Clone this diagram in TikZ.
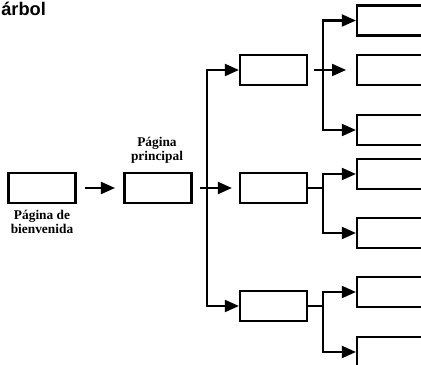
\documentclass[tikz,border=0pt]{standalone}
\usepackage{fontspec}
\setmainfont{Liberation Serif}
\newfontfamily\titlefont{Liberation Sans}
\usetikzlibrary{arrows.meta}

\begin{document}
\begin{tikzpicture}[
                x=0.025cm, y=-0.025cm,
                box/.style={
                    draw=black,
                    rectangle,
                    line width=1.5pt,
                    minimum width=1.675cm,
                    minimum height=0.75cm,
                    inner sep=0pt
                },
                leafbox/.style={
                    box,
                    minimum width=2cm
                },
                pagetext/.style={
                    align=center,
                    inner sep=0pt,
                    font=\bfseries\fontsize{9.5}{10}\selectfont
                },
                line/.style={
                    line width=1.5pt
                },
                arrow/.style={
                    line,
                    -{Triangle[length=10pt,width=8.5pt]}
                }
            ]

                \useasboundingbox (0,0) rectangle (421,365);
                \clip (0,0) rectangle (421,365);

                \node[anchor=base west, inner sep=0pt, font=\titlefont\bfseries\fontsize{13}{15}\selectfont] (title) at (1,16) {árbol};

                % main pages
                \node[box] (welcome) at (42,188) {};
                \node[box] (main) at (158,188) {};
                \node[pagetext] (welcometext) at (42,222) {Página de\\bienvenida};
                \node[pagetext] (maintext) at (157,150) {Página\\principal};

                % second level
                \node[box] (lvA) at (273.5,70) {};
                \node[box] (lvB) at (273.5,188) {};
                \node[box] (lvC) at (273.5,306) {};

                % leaves
                \node[leafbox] (r1) at (397,20.5) {};
                \node[leafbox] (r2) at (397,70) {};
                \node[leafbox] (r3) at (397,130) {};
                \node[leafbox] (r4) at (397,174) {};
                \node[leafbox] (r5) at (397,233) {};
                \node[leafbox] (r6) at (397,292) {};
                \node[leafbox] (r7) at (397,352) {};

                \coordinate (t1) at (207,188);
                \coordinate (t2) at (323,70);
                \coordinate (t3) at (323,188);
                \coordinate (t4) at (323,306);

                \draw[arrow, shorten <=6pt, shorten >=6pt] (welcome) -- (main);

                \draw[arrow, shorten <=5pt, shorten >=5pt] (main) -- (lvB);
                \draw[arrow] (t1) |- (lvA);
                \draw[arrow] (t1) |- (lvC);

                \draw[arrow, shorten <=4pt, shorten >=7pt] (lvA) -- (r2);
                \draw[arrow] (t2) |- (r1);
                \draw[arrow] (t2) |- (r3);

                \draw[line] (lvB) -- (t3);
                \draw[arrow] (t3) |- (r4);
                \draw[arrow] (t3) |- (r5);

                \draw[line] (lvC) -- (t4);
                \draw[arrow] (t4) |- (r6);
                \draw[arrow] (t4) |- (r7);
        \end{tikzpicture}
\end{document}
